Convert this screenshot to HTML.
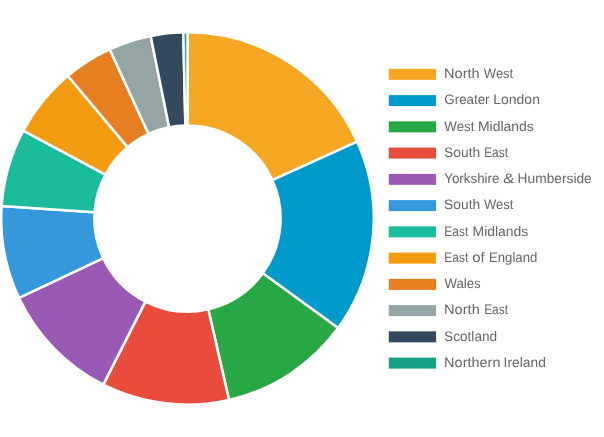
<!DOCTYPE html>
<html><head><meta charset="utf-8"><title>Chart</title>
<style>html,body{margin:0;padding:0;background:#fff}svg{display:block;font-family:"Liberation Sans",sans-serif;text-rendering:geometricPrecision}</style></head>
<body>
<svg width="604" height="437" viewBox="0 0 604 437">
<g stroke="#fff" stroke-width="2.5" stroke-linejoin="bevel">
<path fill="#f5a623" d="M187.50 32.25A186.25 186.25 0 0 1 357.18 141.71L272.34 180.10A93.125 93.125 0 0 0 187.50 125.38Z"/>
<path fill="#0099cc" d="M357.18 141.71A186.25 186.25 0 0 1 338.08 328.11L262.79 273.30A93.125 93.125 0 0 0 272.34 180.10Z"/>
<path fill="#28a745" d="M338.08 328.11A186.25 186.25 0 0 1 229.02 400.06L208.26 309.28A93.125 93.125 0 0 0 262.79 273.30Z"/>
<path fill="#e74c3c" d="M229.02 400.06A186.25 186.25 0 0 1 103.29 384.63L145.40 301.56A93.125 93.125 0 0 0 208.26 309.28Z"/>
<path fill="#9b59b6" d="M103.29 384.63A186.25 186.25 0 0 1 19.05 297.95L103.27 258.22A93.125 93.125 0 0 0 145.40 301.56Z"/>
<path fill="#3498db" d="M19.05 297.95A186.25 186.25 0 0 1 1.67 205.93L94.59 212.21A93.125 93.125 0 0 0 103.27 258.22Z"/>
<path fill="#1abc9c" d="M1.67 205.93A186.25 186.25 0 0 1 23.30 130.60L105.40 174.55A93.125 93.125 0 0 0 94.59 212.21Z"/>
<path fill="#f39c12" d="M23.30 130.60A186.25 186.25 0 0 1 67.78 75.82L127.64 147.16A93.125 93.125 0 0 0 105.40 174.55Z"/>
<path fill="#e67e22" d="M67.78 75.82A186.25 186.25 0 0 1 109.67 49.29L148.59 133.90A93.125 93.125 0 0 0 127.64 147.16Z"/>
<path fill="#95a5a6" d="M109.67 49.29A186.25 186.25 0 0 1 150.69 35.92L169.09 127.21A93.125 93.125 0 0 0 148.59 133.90Z"/>
<path fill="#34495e" d="M150.69 35.92A186.25 186.25 0 0 1 183.27 32.30L185.39 125.40A93.125 93.125 0 0 0 169.09 127.21Z"/>
<path fill="#16a085" d="M183.27 32.30A186.25 186.25 0 0 1 187.50 32.25L187.50 125.38A93.125 93.125 0 0 0 185.39 125.40Z"/>
</g>
<g font-size="13.75" fill="#666">
<rect x="388.75" y="68.85" width="47.35" height="11.0" fill="#f5a623"/>
<text y="78.12"><tspan x="444.03" textLength="35.72" lengthAdjust="spacingAndGlyphs">North</tspan> <tspan x="483.87" textLength="29.36" lengthAdjust="spacingAndGlyphs">West</tspan></text>
<rect x="388.75" y="95.10" width="47.35" height="11.0" fill="#0099cc"/>
<text y="104.38"><tspan x="444.33" textLength="45.24" lengthAdjust="spacingAndGlyphs">Greater</tspan> <tspan x="493.18" textLength="46.76" lengthAdjust="spacingAndGlyphs">London</tspan></text>
<rect x="388.75" y="121.35" width="47.35" height="11.0" fill="#28a745"/>
<text y="130.62"><tspan x="444.37" textLength="30.06" lengthAdjust="spacingAndGlyphs">West</tspan> <tspan x="477.98" textLength="55.86" lengthAdjust="spacingAndGlyphs">Midlands</tspan></text>
<rect x="388.75" y="147.60" width="47.35" height="11.0" fill="#e74c3c"/>
<text y="156.88"><tspan x="444.11" textLength="36.06" lengthAdjust="spacingAndGlyphs">South</tspan> <tspan x="484.15" textLength="23.89" lengthAdjust="spacingAndGlyphs">East</tspan></text>
<rect x="388.75" y="173.85" width="47.35" height="11.0" fill="#9b59b6"/>
<text y="183.12"><tspan x="444.20" textLength="55.26" lengthAdjust="spacingAndGlyphs">Yorkshire</tspan> <tspan x="502.90" textLength="11.59" lengthAdjust="spacingAndGlyphs">&amp;</tspan> <tspan x="517.60" textLength="74.17" lengthAdjust="spacingAndGlyphs">Humberside</tspan></text>
<rect x="388.75" y="200.10" width="47.35" height="11.0" fill="#3498db"/>
<text y="209.38"><tspan x="444.11" textLength="36.06" lengthAdjust="spacingAndGlyphs">South</tspan> <tspan x="483.97" textLength="29.36" lengthAdjust="spacingAndGlyphs">West</tspan></text>
<rect x="388.75" y="226.35" width="47.35" height="11.0" fill="#1abc9c"/>
<text y="235.62"><tspan x="444.35" textLength="23.89" lengthAdjust="spacingAndGlyphs">East</tspan> <tspan x="472.59" textLength="55.76" lengthAdjust="spacingAndGlyphs">Midlands</tspan></text>
<rect x="388.75" y="252.60" width="47.35" height="11.0" fill="#f39c12"/>
<text y="261.88"><tspan x="444.35" textLength="23.89" lengthAdjust="spacingAndGlyphs">East</tspan> <tspan x="472.30" textLength="12.46" lengthAdjust="spacingAndGlyphs">of</tspan> <tspan x="489.05" textLength="48.24" lengthAdjust="spacingAndGlyphs">England</tspan></text>
<rect x="388.75" y="278.85" width="47.35" height="11.0" fill="#e67e22"/>
<text y="288.12"><tspan x="444.47" textLength="36.18" lengthAdjust="spacingAndGlyphs">Wales</tspan></text>
<rect x="388.75" y="305.10" width="47.35" height="11.0" fill="#95a5a6"/>
<text y="314.38"><tspan x="444.03" textLength="35.83" lengthAdjust="spacingAndGlyphs">North</tspan> <tspan x="484.15" textLength="23.89" lengthAdjust="spacingAndGlyphs">East</tspan></text>
<rect x="388.75" y="331.35" width="47.35" height="11.0" fill="#34495e"/>
<text y="340.62"><tspan x="444.12" textLength="53.02" lengthAdjust="spacingAndGlyphs">Scotland</tspan></text>
<rect x="388.75" y="357.60" width="47.35" height="11.0" fill="#16a085"/>
<text y="366.88"><tspan x="444.14" textLength="56.34" lengthAdjust="spacingAndGlyphs">Northern</tspan> <tspan x="503.56" textLength="42.28" lengthAdjust="spacingAndGlyphs">Ireland</tspan></text>
</g></svg>
</body></html>
